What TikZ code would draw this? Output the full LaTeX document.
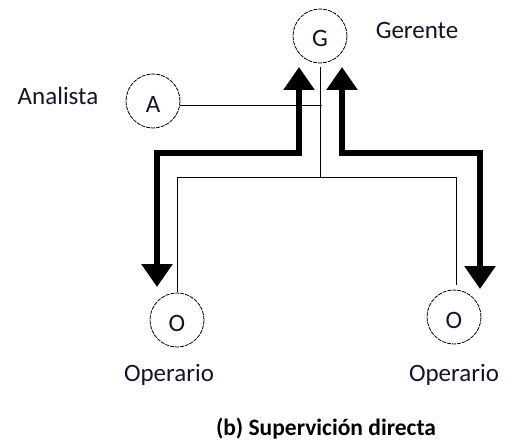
\documentclass[tikz,border=0pt]{standalone}
\usepackage{fontspec}
\setmainfont{Carlito}
\usepackage{xcolor}
\usetikzlibrary{arrows.meta}
\definecolor{ink}{HTML}{000000}
\definecolor{txt}{HTML}{141428}
\tikzset{
  puesto/.style={circle, draw=ink, line width=0.8pt, dash pattern=on 4pt off 1pt,
    minimum size=54pt, inner sep=0pt, text height=22pt, text depth=0pt,
    text=txt, font=\fontsize{25}{30}\selectfont},
  linea/.style={draw=ink, line width=1pt},
  flecha/.style={draw=ink, line width=6pt, line join=miter,
    {Triangle[width=30pt,length=23pt]}-{Triangle[width=30pt,length=23pt]}},
  etq/.style={text=txt, anchor=base, inner sep=0pt, font=\fontsize{25}{30}\selectfont},
  titulo/.style={text=ink, anchor=base, inner sep=0pt, font=\bfseries\fontsize{23.5}{28}\selectfont},
}

\begin{document}
\begin{tikzpicture}[x=1pt,y=-1pt]
  \useasboundingbox (0,0) rectangle (505,441);

  % puestos
  \node[puesto] (g) at (320,36) {G};
  \node[puesto] (a) at (153,101) {A};
  \node[puesto] (o1) at (177,320) {O};
  \node[puesto] (o2) at (454,317) {O};

  % etiquetas
  \node[etq] (lg) at (417,39) {Gerente};
  \node[etq] (la) at (58,105) {Analista};
  \node[etq] (lo1) at (169,381) {Operario};
  \node[etq] (lo2) at (454,381) {Operario};
  \node[titulo] (tt) at (326,435) {(b) Supervición directa};

  % linea de mando
  \coordinate (gtop) at (320,67);
  \coordinate (nudo) at (320,177);
  \coordinate (fin1) at (177,292);
  \coordinate (fin2) at (456,285);
  \coordinate (aend) at (322,105);
  \draw[linea] (gtop) -- (nudo);
  \draw[linea] (nudo) -| (fin1);
  \draw[linea] (nudo) -| (fin2);
  \draw[linea] (a.east |- aend) -- (aend);

  % supervision
  \coordinate (p1) at (299,67);
  \coordinate (q1) at (157,287);
  \coordinate (p2) at (342,67);
  \coordinate (q2) at (480,289);
  \draw[flecha] (p1) -- (299,153) -- (157,153) -- (q1);
  \draw[flecha] (p2) -- (342,153) -- (480,153) -- (q2);
\end{tikzpicture}
\end{document}
